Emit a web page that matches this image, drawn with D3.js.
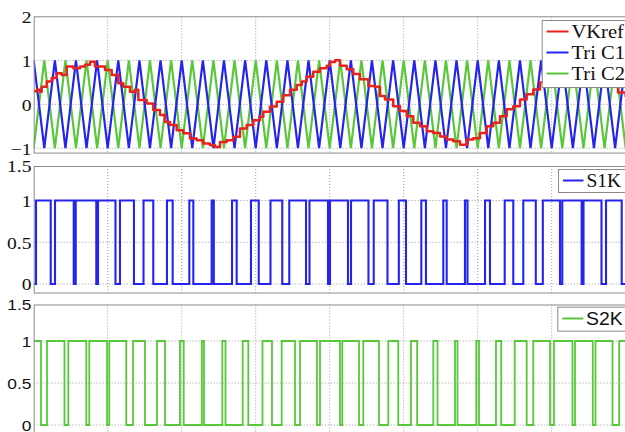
<!DOCTYPE html>
<html><head><meta charset="utf-8">
<script src="https://cdn.jsdelivr.net/npm/d3@7"></script>
<style>body{margin:0;background:#fff}svg{display:block}</style>
</head><body><svg id="c" width="625" height="432"></svg>
<script>
// ---------- DATA (time in ms) ----------
const timeDomain = [0, 80];
const timeGrid = [10, 20, 30, 40, 50, 60, 70];

// triangular carrier vertices
const triTimes = [
  0, 1.43, 2.86, 4.29, 5.71, 7.14, 8.57,
  10, 11.43, 12.86, 14.29, 15.71, 17.14, 18.57,
  20, 21.43, 22.86, 24.29, 25.71, 27.14, 28.57,
  30, 31.43, 32.86, 34.29, 35.71, 37.14, 38.57,
  40, 41.43, 42.86, 44.29, 45.71, 47.14, 48.57,
  50, 51.43, 52.86, 54.29, 55.71, 57.14, 58.57,
  60, 61.43, 62.86, 64.29, 65.71, 67.14, 68.57,
  70, 71.43, 72.86, 74.29, 75.71, 77.14, 78.57,
  80];
const triC1 = [
  1,-1,1,-1,1,-1,1,
  -1,1,-1,1,-1,1,-1,
  1,-1,1,-1,1,-1,1,
  -1,1,-1,1,-1,1,-1,
  1,-1,1,-1,1,-1,1,
  -1,1,-1,1,-1,1,-1,
  1,-1,1,-1,1,-1,1,
  -1,1,-1,1,-1,1,-1,
  1];
const triC2 = [
  -1,1,-1,1,-1,1,-1,
  1,-1,1,-1,1,-1,1,
  -1,1,-1,1,-1,1,-1,
  1,-1,1,-1,1,-1,1,
  -1,1,-1,1,-1,1,-1,
  1,-1,1,-1,1,-1,1,
  -1,1,-1,1,-1,1,-1,
  1,-1,1,-1,1,-1,1,
  -1];

// sampled reference
const vkrefTime = [
  0.00, 0.41, 0.85, 1.08, 1.76, 2.43, 3.11, 3.78, 4.46, 5.35, 6.26, 6.93, 7.61, 8.28, 8.96,
  9.64, 10.54, 11.43, 12.11, 13.01, 13.69, 14.14, 15.27, 16.16, 17.07, 17.74, 18.42, 19.32,
  20.22, 21.12, 22.03, 22.92, 23.82, 24.50, 25.18, 26.08, 26.97, 27.88, 28.78, 29.68, 30.58,
  31.03, 31.93, 32.84, 33.73, 34.64, 35.54, 36.22, 36.89, 37.78, 38.69, 39.59, 40.04, 40.72,
  41.39, 42.30, 43.19, 44.09, 45.22, 46.12, 46.80, 47.47, 48.59, 49.50, 50.41, 51.30, 52.20,
  53.11, 54.00, 54.91, 55.81, 56.70, 57.61, 58.51, 59.41, 60.31, 61.22, 62.11, 63.01, 63.92,
  64.81, 65.72, 66.62, 67.51, 68.42, 69.50, 70.58, 71.66, 72.74, 73.82, 75.18, 76.53, 77.88,
  78.96, 80.00];
const vkrefValue = [
  0.30, 0.33, 0.29, 0.40, 0.52, 0.60, 0.71, 0.67, 0.86, 0.82, 0.86, 0.90, 0.97, 0.86, 0.86,
  0.78, 0.67, 0.48, 0.40, 0.29, 0.33, 0.10, 0.02, -0.13, -0.24, -0.40, -0.47, -0.59,
  -0.66, -0.78, -0.82, -0.89, -0.93, -0.97, -0.86, -0.82, -0.74, -0.55, -0.47, -0.36, -0.28,
  -0.17, -0.05, 0.06, 0.21, 0.33, 0.44, 0.52, 0.63, 0.74, 0.82, 0.88, 0.96, 1.00,
  0.88, 0.80, 0.69, 0.57, 0.42, 0.40, 0.19, 0.11, -0.04, -0.15, -0.27, -0.42, -0.50,
  -0.61, -0.65, -0.73, -0.80, -0.84, -0.92, -0.80, -0.77, -0.65, -0.50, -0.42, -0.27, -0.11,
  -0.04, 0.11, 0.23, 0.34, 0.50, 0.65, 0.82, 0.92, 0.98, 0.93, 0.80, 0.60, 0.42,
  0.27, 0.17];

// gate signals: initial level and switching instants
const s1kStart = 0;
const s1kEdges = [
  0.31, 2.30, 2.88, 5.41, 5.68, 8.46, 8.69, 11.05, 11.66, 13.55, 14.84, 16.16, 18.01, 18.78,
  21.03, 21.57, 24.05, 24.34, 26.80, 27.43, 29.36, 30.41, 32.00, 33.59, 34.54, 36.80, 37.27,
  39.77, 40.04, 42.47, 42.88, 45.24, 45.95, 47.81, 49.34, 50.31, 52.38, 53.01, 55.35, 55.81,
  58.28, 58.62, 60.99, 61.66, 63.65, 64.81, 66.16, 67.85, 68.80, 71.12, 71.43, 74.05, 74.30,
  76.73, 77.34, 79.46];
const s2kStart = 1;
const s2kEdges = [
  0.99, 1.80, 4.16, 4.68, 7.11, 7.51, 9.91, 10.22, 12.51, 13.42, 15.04, 16.66, 17.74, 19.77,
  20.27, 22.72, 23.01, 25.49, 25.92, 28.24, 29.00, 30.92, 32.20, 33.51, 35.31, 35.99, 38.28,
  38.69, 41.39, 41.70, 43.96, 44.54, 46.66, 47.92, 49.27, 50.99, 51.82, 54.00, 54.57, 56.93,
  57.27, 59.81, 60.18, 62.47, 63.18, 65.00, 66.62, 67.51, 69.77, 70.31, 72.81, 73.15, 75.55,
  75.92, 78.22, 79.12];

const topTicks = [-1, 0, 1, 2];
const gateTicks = [0, 0.5, 1, 1.5];
const topLegend = ["VKref", "Tri C1", "Tri C2"];
const s1kLegend = ["S1K"];
const s2kLegend = ["S2K"];

// ---------- STYLE ----------
const colRed = "#e8231e", colBlue = "#2424ee", colGreen = "#58c83a";
const serif = "'Liberation Serif','Times New Roman',serif";
const sans = "'Liberation Sans',Arial,sans-serif";

const svg = d3.select("#c");
const x = d3.scaleLinear().domain(timeDomain).range([33.7, 625.7]);

const panels = [
  {id: "p1", y: d3.scaleLinear().domain([-1.1, 0, 2]).range([152.6, 104.4, 16.3]),
   ticks: topTicks, font: serif, fs: 17.5, sx: 1.12},
  {id: "p2", y: d3.scaleLinear().domain([-0.1, 0, 1, 1.5]).range([292.5, 284, 200.5, 166]),
   ticks: gateTicks, font: serif, fs: 17.5, sx: 1.12},
  {id: "p3", y: d3.scaleLinear().domain([-0.1, 0, 1, 1.5]).range([433.5, 425, 341, 304.5]),
   ticks: gateTicks, font: sans, fs: 15.5, sx: 1.12}
];

panels.forEach(p => {
  const [yb, yt] = [p.y.range()[0], p.y.range()[p.y.range().length - 1]];
  const g = svg.append("g");
  g.append("defs").append("clipPath").attr("id", "clip-" + p.id)
    .append("rect").attr("x", x.range()[0]).attr("y", yt)
    .attr("width", x.range()[1] - x.range()[0]).attr("height", yb - yt);
  p.g = g; p.yb = yb; p.yt = yt;
  g.append("rect").attr("x", x.range()[0]).attr("y", yt)
    .attr("width", x.range()[1] - x.range()[0]).attr("height", yb - yt).attr("fill", "#fff");
  g.selectAll(".vg").data(timeGrid).join("line")
    .attr("x1", d => x(d)).attr("x2", d => x(d)).attr("y1", yt).attr("y2", yb)
    .attr("stroke", "#9a9a9a").attr("stroke-width", 1).attr("stroke-dasharray", "1,2");
  const dom = p.y.domain();
  g.selectAll(".hg").data(p.ticks.filter(t => t > dom[0] && t < dom[dom.length - 1])).join("line")
    .attr("x1", x.range()[0]).attr("x2", x.range()[1]).attr("y1", d => p.y(d)).attr("y2", d => p.y(d))
    .attr("stroke", "#9a9a9a").attr("stroke-width", 1).attr("stroke-dasharray", "1,2");
  const ax = g.append("g").attr("transform", `translate(${x.range()[0]},0)`)
    .call(d3.axisLeft(p.y).tickValues(p.ticks).tickSize(0).tickPadding(2).tickFormat(d3.format("")));
  ax.select(".domain").remove();
  ax.selectAll("text").attr("font-family", p.font).attr("font-size", p.fs).attr("fill", "#111")
    .attr("transform", `scale(${p.sx},1)`).attr("dy", "0.34em");
});

// --- panel 1 lines ---
const p1 = panels[0];
const lp = p1.g.append("g").attr("clip-path", "url(#clip-p1)");
const triLine = vals => d3.line().x((d, i) => x(triTimes[i])).y(d => p1.y(d))(vals);
lp.append("path").attr("d", triLine(triC2)).attr("fill", "none").attr("stroke", colGreen).attr("stroke-width", 2.2);
lp.append("path").attr("d", triLine(triC1)).attr("fill", "none").attr("stroke", colBlue).attr("stroke-width", 2.2);
const refLine = d3.line().curve(d3.curveStepAfter).x((d, i) => x(vkrefTime[i])).y(d => p1.y(d));
lp.append("path").attr("d", refLine(vkrefValue)).attr("fill", "none").attr("stroke", colRed)
  .attr("stroke-width", 2.5).attr("stroke-linejoin", "round");

// --- gate pulses ---
function pulsePoints(start, edges) {
  const pts = [[timeDomain[0], start]];
  let v = start;
  edges.forEach(t => { v = 1 - v; pts.push([t, v]); });
  pts.push([timeDomain[1], v]);
  return pts;
}
[[panels[1], s1kStart, s1kEdges, colBlue, 2.1], [panels[2], s2kStart, s2kEdges, colGreen, 1.8]].forEach(([p, s, e, c, w]) => {
  const line = d3.line().curve(d3.curveStepAfter).x(d => x(d[0])).y(d => p.y(d[1]));
  p.g.append("g").attr("clip-path", `url(#clip-${p.id})`)
    .append("path").attr("d", line(pulsePoints(s, e))).attr("fill", "none")
    .attr("stroke", c).attr("stroke-width", w);
});

// frames
panels.forEach(p => {
  p.g.append("rect").attr("x", x.range()[0] + 0.5).attr("y", p.yt + 0.5)
    .attr("width", x.range()[1] - x.range()[0]).attr("height", p.yb - p.yt)
    .attr("fill", "none").attr("stroke", "#8a8a8a").attr("stroke-width", 1);
});

// legends
function legend(labels, colors, box, font, fs) {
  const g = svg.append("g");
  g.append("rect").attr("x", box.x + 0.5).attr("y", box.y + 0.5).attr("width", box.w).attr("height", box.h)
    .attr("fill", "#fff").attr("stroke", "#8a8a8a");
  labels.forEach((l, i) => {
    const cy = box.y0 + i * box.dy;
    g.append("line").attr("x1", box.lx0).attr("x2", box.lx1).attr("y1", cy).attr("y2", cy)
      .attr("stroke", colors[i]).attr("stroke-width", 2);
    g.append("text").attr("x", 0).attr("y", 0)
      .attr("transform", `translate(${box.tx},${cy}) scale(1.08,1)`)
      .attr("dy", "0.35em").attr("font-family", font).attr("font-size", fs).attr("fill", "#111").text(l);
  });
}
legend(topLegend, [colRed, colBlue, colGreen],
  {x: 541.7, y: 20, w: 100, h: 67, y0: 31.5, dy: 21, lx0: 546.5, lx1: 568.5, tx: 571.5}, serif, 19);
legend(s1kLegend, [colBlue],
  {x: 558, y: 169, w: 100, h: 23, y0: 180.5, dy: 0, lx0: 563, lx1: 583.5, tx: 586.5}, serif, 18);
legend(s2kLegend, [colGreen],
  {x: 557.3, y: 306.7, w: 100, h: 24, y0: 318.5, dy: 0, lx0: 562.3, lx1: 583.3, tx: 586}, sans, 18);
</script></body></html>
